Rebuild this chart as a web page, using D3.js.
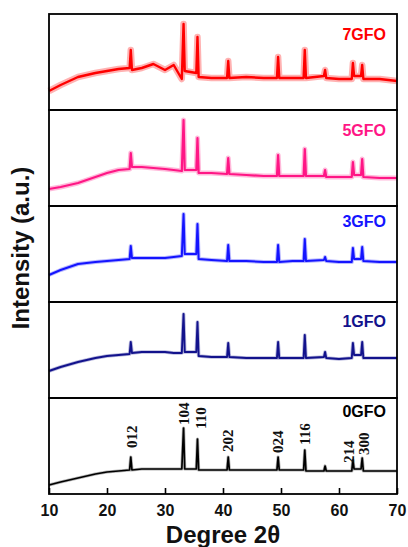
<!DOCTYPE html>
<html>
<head>
<meta charset="utf-8">
<script src="https://cdn.jsdelivr.net/npm/d3@7"></script>
<style>
  body { margin: 0; background: #fff; }
</style>
</head>
<body>
<div id="chart"></div>
<script>
// shared 2theta grid (deg), values in a.u.
const twoTheta = [10, 12, 15, 18, 20, 22, 23.9, 24.1, 24.3, 26, 28, 30, 31.5, 32.9, 33.2, 33.4,
  35.4, 35.6, 35.8, 38, 40.7, 40.9, 41.1, 44, 47, 49.3, 49.5, 49.7, 52, 53.9, 54.1, 54.3,
  57.4, 57.6, 57.8, 60, 62.2, 62.4, 62.6, 63.8, 64.0, 64.2, 67, 70];

const gfo7 = [19, 25, 33, 37, 39, 41, 42, 60, 40, 42, 46, 40, 45, 31, 86, 39,
  37, 73, 33, 32, 32, 49, 32, 33, 32, 32, 53, 32, 32, 32, 60, 32,
  34, 40, 32, 31, 31, 47, 34, 34, 45, 31, 31, 29];
const gfo5 = [17, 19, 23, 29, 33, 36, 37, 53, 39, 39, 38, 37, 36, 35, 86, 36,
  36, 68, 33, 33, 32, 48, 32, 31, 30, 30, 51, 30, 30, 30, 57, 30,
  30, 36, 29, 29, 29, 44, 31, 31, 47, 29, 28, 28];
const gfo3 = [27, 32, 38, 40, 41, 42, 43, 56, 44, 44, 44, 44, 45, 46, 88, 48,
  48, 78, 43, 42, 41, 57, 41, 41, 40, 40, 57, 40, 41, 41, 63, 41,
  42, 45, 41, 40, 40, 54, 43, 43, 55, 41, 40, 40];
const gfo1 = [27, 31, 36, 40, 42, 43, 44, 56, 45, 46, 46, 46, 45, 45, 84, 46,
  46, 76, 42, 41, 41, 55, 41, 40, 40, 40, 56, 40, 40, 40, 63, 40,
  41, 46, 40, 39, 40, 55, 43, 43, 56, 40, 40, 40];
const gfo0 = [9, 12, 16, 20, 22, 23, 24, 37, 24, 25, 25, 25, 25, 25, 66, 25,
  25, 55, 24, 24, 24, 37, 24, 24, 24, 24, 37, 24, 24, 24, 44, 23,
  23, 28, 23, 23, 23, 34, 25, 25, 36, 23, 23, 23];

const samples = ["7GFO", "5GFO", "3GFO", "1GFO", "0GFO"];
const seriesValues = [gfo7, gfo5, gfo3, gfo1, gfo0];
const colors = ["#ff0000", "#ff1685", "#1414ff", "#12128c", "#000000"];

const xTicks = [10, 20, 30, 40, 50, 60, 70];

// hkl reflections marked on the 0GFO pattern
const hkl = ["012", "104", "110", "202", "024", "116", "214", "300"];
const hklPos = [24.1, 33.2, 35.6, 40.9, 49.5, 54.1, 62.4, 64.0];
const hklTop = [37, 66, 55, 37, 37, 44, 34, 36];

// layout
const W = 408, H = 547;
const plotL = 49, plotR = 397, plotT = 14, panelH = 96;
const lineW = [2.4, 2.2, 2, 1.9, 1.7];
const fuzzW = [6.5, 5, 4, 3.6, 3.2];
const labelDy = [26, 26, 21, 25, 19];
const hklGap = [9, 3, 10, 5, 4, 5, -3, 3];
const hklDx = [1, 0, 3, 0, 0, 0, -4, 2];

const svg = d3.select("#chart").append("svg")
  .attr("width", W).attr("height", H)
  .style("background", "#fff");

const x = d3.scaleLinear().domain([10, 70]).range([plotL, plotR]);

samples.forEach((name, i) => {
  const y0 = plotT + i * panelH;
  const y = d3.scaleLinear().domain([0, 96]).range([y0 + panelH, y0]);
  const pts = twoTheta.map((t, k) => [t, seriesValues[i][k]]);
  const line = d3.line().x(d => x(d[0])).y(d => y(d[1]));

  const g = svg.append("g");
  g.append("path").datum(pts)
    .attr("d", line)
    .attr("fill", "none")
    .attr("stroke", colors[i])
    .attr("stroke-opacity", 0.3)
    .attr("stroke-width", fuzzW[i])
    .attr("stroke-linejoin", "round");
  g.append("path").datum(pts)
    .attr("d", line)
    .attr("fill", "none")
    .attr("stroke", colors[i])
    .attr("stroke-width", lineW[i])
    .attr("stroke-linejoin", "round");

  g.append("rect")
    .attr("x", plotL).attr("y", y0)
    .attr("width", plotR - plotL).attr("height", panelH)
    .attr("fill", "none").attr("stroke", "#000").attr("stroke-width", 1.8);

  g.append("text")
    .attr("x", 386).attr("y", y0 + labelDy[i])
    .attr("text-anchor", "end")
    .attr("font-family", "Liberation Sans, Arial, sans-serif")
    .attr("font-weight", "bold").attr("font-size", 16)
    .attr("fill", colors[i])
    .text(name);

  if (i === samples.length - 1) {
    hkl.forEach((lab, k) => {
      const cx = x(hklPos[k]) + hklDx[k];
      const by = y(hklTop[k]) - hklGap[k];
      g.append("text")
        .attr("transform", `translate(${cx},${by}) rotate(-90)`)
        .attr("dy", "0.35em")
        .attr("font-family", "Liberation Serif, Times New Roman, serif")
        .attr("font-weight", "bold").attr("font-size", 15)
        .attr("fill", "#111")
        .text(lab);
    });

    const ax = g.append("g")
      .attr("transform", `translate(0,${y0 + panelH})`)
      .call(d3.axisBottom(x).tickValues(xTicks).tickSizeInner(-6).tickSizeOuter(0).tickPadding(11));
    ax.select(".domain").remove();
    ax.selectAll("line").attr("stroke", "#000").attr("stroke-width", 1.6);
    ax.selectAll("text")
      .attr("font-family", "Liberation Sans, Arial, sans-serif")
      .attr("font-weight", "bold").attr("font-size", 16).attr("fill", "#111");
  }
});

svg.append("text")
  .attr("x", (plotL + plotR) / 2).attr("y", 543)
  .attr("text-anchor", "middle")
  .attr("font-family", "Liberation Sans, Arial, sans-serif")
  .attr("font-weight", "bold").attr("font-size", 24).attr("fill", "#111")
  .text("Degree 2θ");

svg.append("text")
  .attr("transform", "translate(29,248) rotate(-90)")
  .attr("text-anchor", "middle")
  .attr("font-family", "Liberation Sans, Arial, sans-serif")
  .attr("font-weight", "bold").attr("font-size", 24).attr("fill", "#111")
  .text("Intensity (a.u.)");
</script>
</body>
</html>
